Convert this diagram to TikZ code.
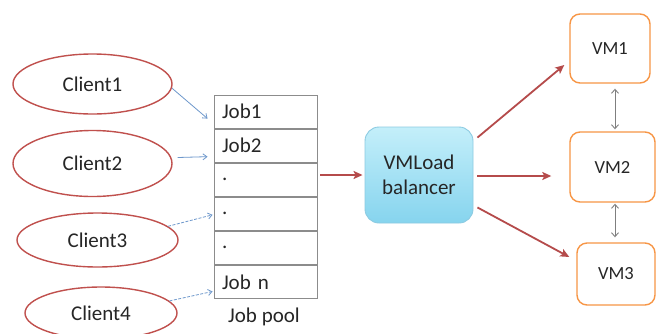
\documentclass[tikz,border=0pt]{standalone}
\usepackage{fontspec}
\setmainfont{Carlito}
\usetikzlibrary{shapes.geometric,arrows.meta,calc}

\definecolor{clientred}{HTML}{C0504D}
\definecolor{vmorange}{HTML}{F79646}
\definecolor{flowred}{HTML}{B54B4B}
\definecolor{feedblue}{HTML}{6E98CC}
\definecolor{linkgray}{HTML}{7F7F7F}
\definecolor{gridgray}{HTML}{8C8C8C}
\definecolor{inkgray}{HTML}{262626}
\definecolor{lbtop}{HTML}{C4EFFA}
\definecolor{lbbottom}{HTML}{86D4EE}
\definecolor{lbedge}{HTML}{8CCBE2}

\tikzset{
  client/.style={ellipse, draw=clientred, line width=1.4pt, inner sep=0pt,
    text=inkgray, font=\fontsize{21}{25}\selectfont},
  jobrow/.style={rectangle, draw=gridgray, line width=0.9pt, minimum width=103pt,
    minimum height=33.17pt, inner xsep=8pt, inner ysep=0pt, text width=87pt,
    align=left, text=inkgray, font=\fontsize{21}{25}\selectfont},
  balancer/.style={rectangle, rounded corners=14pt, draw=lbedge, line width=0.9pt,
    top color=lbtop, bottom color=lbbottom, minimum width=108pt, minimum height=96pt,
    inner sep=0pt, align=center, text=inkgray, font=\fontsize{21}{25}\selectfont},
  vmbox/.style={rectangle, rounded corners=10pt, draw=vmorange, line width=1.4pt,
    inner sep=0pt, text=inkgray, font=\fontsize{18.5}{22}\selectfont},
  feed/.style={draw=feedblue, line width=0.8pt, -{Straight Barb[length=4pt,width=6pt]}},
  feeddash/.style={feed, dash pattern=on 3pt off 1.5pt},
  flow/.style={draw=flowred, line width=1.8pt, -{Stealth[length=9pt,width=8pt,inset=2pt]}},
  link/.style={draw=linkgray, line width=0.9pt,
    {Straight Barb[length=4pt,width=7pt]}-{Straight Barb[length=4pt,width=7pt]}},
}

\begin{document}
\begin{tikzpicture}[x=1pt,y=-1pt]
  \useasboundingbox (0,0) rectangle (656,333);
  \fill[white] (0,0) rectangle (656,333);
  \clip (0,0) rectangle (656,333);

  % clients
  \node[client, minimum width=159pt, minimum height=60pt] (c1) at (92.5,84) {Client1};
  \node[client, minimum width=159pt, minimum height=66pt] (c2) at (92.5,163.5) {Client2};
  \node[client, minimum width=161pt, minimum height=54pt] (c3) at (97.5,240) {Client3};
  \node[client, minimum width=152pt, minimum height=52pt] (c4) at (101,313) {Client4};

  % job pool
  \node[jobrow] (job1) at (265.5,111.6) {Job1};
  \node[jobrow, anchor=north] (job2) at (job1.south) {Job2};
  \node[jobrow, anchor=north] (job3) at (job2.south) {.};
  \node[jobrow, anchor=north] (job4) at (job3.south) {.};
  \node[jobrow, anchor=north] (job5) at (job4.south) {.};
  \node[jobrow, anchor=north] (job6) at (job5.south) {Job n};
  \node[text=inkgray, font=\fontsize{21}{25}\selectfont] (pool) at (264,317) {Job pool};

  % load balancer and virtual machines
  \node[balancer] (lb) at (419,175) {VMLoad\\balancer};
  \node[vmbox, minimum width=80pt, minimum height=69pt] (vm1) at (610,48.5) {VM1};
  \node[vmbox, minimum width=85pt, minimum height=70pt] (vm2) at (612.5,167) {VM2};
  \node[vmbox, minimum width=78pt, minimum height=62pt] (vm3) at (616,274) {VM3};

  % clients submit jobs
  \draw[feed] (c1.-3) -- ($(job1.west)+(-6,7)$);
  \draw[feed] ($(c2.east)+(5,-6)$) -- ($(job2.west)+(-6,11)$);
  \draw[feeddash] (c3.11) -- ($(job4.west)+(-1,1)$);
  \draw[feeddash] (c4.10) -- ($(job6.west)+(-1,9.5)$);

  % jobs to balancer
  \draw[flow, shorten <=3pt, shorten >=2pt] (job3.east |- lb.west) -- (lb.west);

  % balancer to machines
  \draw[flow] ($(lb.north east)+(4,11)$) -- ($(vm1.west)+(-5,16.5)$);
  \draw[flow] ($(lb.east)+(4,1)$) -- ($(vm2.west)+(-18,9)$);
  \draw[flow] ($(lb.south east)+(4,-16)$) -- ($(vm3.west)+(-7,-17)$);

  % links between machines
  \draw[link] ($(vm1.south)+(5,5)$) -- ($(vm2.north)+(2.5,-2)$);
  \draw[link] ($(vm2.south)+(2.5,1)$) -- ($(vm3.north)+(-1,-5)$);
\end{tikzpicture}
\end{document}
